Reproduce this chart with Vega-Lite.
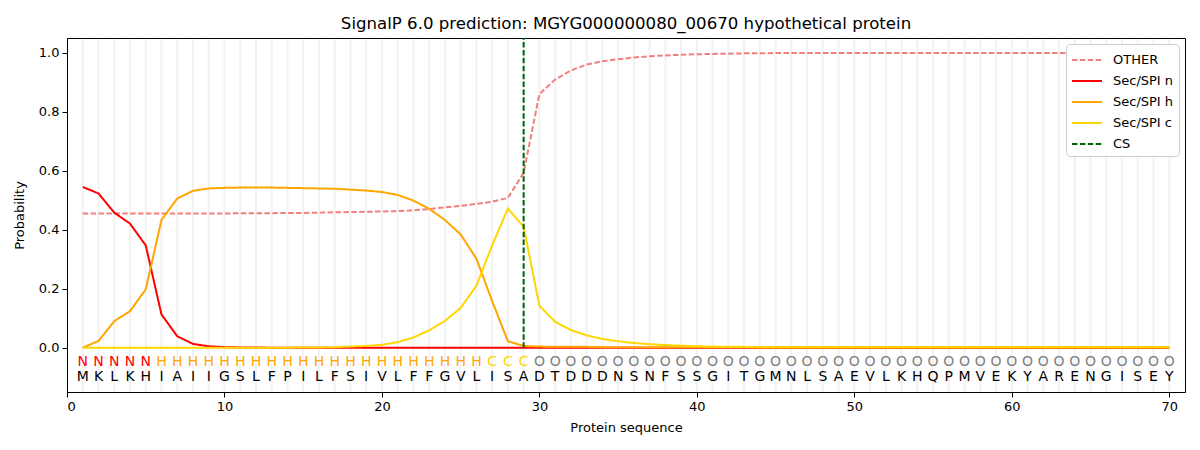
{
  "$schema": "https://vega.github.io/schema/vega-lite/v6.json",
  "width": 1118,
  "height": 354,
  "autosize": "none",
  "padding": {"left": 67, "top": 38, "right": 15, "bottom": 58},
  "title": {
    "text": "SignalP 6.0 prediction: MGYG000000080_00670 hypothetical protein",
    "font": "DejaVu Sans",
    "fontSize": 16.6,
    "fontWeight": "normal",
    "color": "black",
    "offset": 4
  },
  "config": {
    "view": {"stroke": "black", "strokeWidth": 1},
    "axis": {
      "labelFont": "DejaVu Sans",
      "labelFontSize": 13,
      "labelColor": "black",
      "titleFont": "DejaVu Sans",
      "titleFontSize": 13,
      "titleFontWeight": "normal",
      "titleColor": "black",
      "domainColor": "black",
      "tickColor": "black",
      "tickSize": 5,
      "grid": false
    },
    "legend": {
      "orient": "top-right",
      "offset": 6,
      "strokeColor": "#cccccc",
      "fillColor": "white",
      "cornerRadius": 4,
      "padding": 5,
      "labelFont": "DejaVu Sans",
      "labelFontSize": 13,
      "labelColor": "black",
      "symbolType": "M-1.5,0H1.5",
      "symbolSize": 400,
      "symbolStrokeWidth": 2,
      "symbolOffset": 5,
      "rowPadding": 3,
      "labelOffset": 15
    }
  },
  "datasets": {
    "seq": [
      {"pos": 1, "aa": "M", "lab": "N", "other": 0.455, "n": 0.545, "h": 0.0, "c": 0.0},
      {"pos": 2, "aa": "K", "lab": "N", "other": 0.455, "n": 0.523, "h": 0.023, "c": 0.0},
      {"pos": 3, "aa": "L", "lab": "N", "other": 0.455, "n": 0.458, "h": 0.09, "c": 0.0},
      {"pos": 4, "aa": "K", "lab": "N", "other": 0.455, "n": 0.421, "h": 0.124, "c": 0.0},
      {"pos": 5, "aa": "H", "lab": "N", "other": 0.455, "n": 0.347, "h": 0.198, "c": 0.0},
      {"pos": 6, "aa": "I", "lab": "H", "other": 0.455, "n": 0.113, "h": 0.433, "c": 0.0},
      {"pos": 7, "aa": "A", "lab": "H", "other": 0.455, "n": 0.039, "h": 0.506, "c": 0.0},
      {"pos": 8, "aa": "I", "lab": "H", "other": 0.455, "n": 0.013, "h": 0.532, "c": 0.0},
      {"pos": 9, "aa": "I", "lab": "H", "other": 0.455, "n": 0.005, "h": 0.54, "c": 0.0},
      {"pos": 10, "aa": "G", "lab": "H", "other": 0.455, "n": 0.002, "h": 0.542, "c": 0.0},
      {"pos": 11, "aa": "S", "lab": "H", "other": 0.456, "n": 0.001, "h": 0.543, "c": 0.0},
      {"pos": 12, "aa": "L", "lab": "H", "other": 0.456, "n": 0.001, "h": 0.543, "c": 0.0},
      {"pos": 13, "aa": "F", "lab": "H", "other": 0.456, "n": 0.0, "h": 0.543, "c": 0.0},
      {"pos": 14, "aa": "P", "lab": "H", "other": 0.457, "n": 0.0, "h": 0.542, "c": 0.0},
      {"pos": 15, "aa": "I", "lab": "H", "other": 0.457, "n": 0.0, "h": 0.541, "c": 0.001},
      {"pos": 16, "aa": "L", "lab": "H", "other": 0.458, "n": 0.0, "h": 0.54, "c": 0.001},
      {"pos": 17, "aa": "F", "lab": "H", "other": 0.459, "n": 0.0, "h": 0.539, "c": 0.002},
      {"pos": 18, "aa": "S", "lab": "H", "other": 0.46, "n": 0.0, "h": 0.536, "c": 0.004},
      {"pos": 19, "aa": "I", "lab": "H", "other": 0.461, "n": 0.0, "h": 0.533, "c": 0.006},
      {"pos": 20, "aa": "V", "lab": "H", "other": 0.462, "n": 0.0, "h": 0.528, "c": 0.01},
      {"pos": 21, "aa": "L", "lab": "H", "other": 0.463, "n": 0.0, "h": 0.518, "c": 0.019},
      {"pos": 22, "aa": "F", "lab": "H", "other": 0.466, "n": 0.0, "h": 0.499, "c": 0.035},
      {"pos": 23, "aa": "F", "lab": "H", "other": 0.47, "n": 0.0, "h": 0.471, "c": 0.059},
      {"pos": 24, "aa": "G", "lab": "H", "other": 0.476, "n": 0.0, "h": 0.433, "c": 0.091},
      {"pos": 25, "aa": "V", "lab": "H", "other": 0.481, "n": 0.0, "h": 0.384, "c": 0.135},
      {"pos": 26, "aa": "L", "lab": "H", "other": 0.488, "n": 0.0, "h": 0.302, "c": 0.21},
      {"pos": 27, "aa": "I", "lab": "C", "other": 0.495, "n": 0.0, "h": 0.158, "c": 0.347},
      {"pos": 28, "aa": "S", "lab": "C", "other": 0.508, "n": 0.0, "h": 0.022, "c": 0.472},
      {"pos": 29, "aa": "A", "lab": "C", "other": 0.593, "n": 0.0, "h": 0.006, "c": 0.41},
      {"pos": 30, "aa": "D", "lab": "O", "other": 0.86, "n": 0.0, "h": 0.004, "c": 0.142},
      {"pos": 31, "aa": "T", "lab": "O", "other": 0.909, "n": 0.0, "h": 0.003, "c": 0.088},
      {"pos": 32, "aa": "D", "lab": "O", "other": 0.94, "n": 0.0, "h": 0.003, "c": 0.06},
      {"pos": 33, "aa": "D", "lab": "O", "other": 0.96, "n": 0.0, "h": 0.003, "c": 0.042},
      {"pos": 34, "aa": "D", "lab": "O", "other": 0.971, "n": 0.0, "h": 0.002, "c": 0.03},
      {"pos": 35, "aa": "N", "lab": "O", "other": 0.978, "n": 0.0, "h": 0.002, "c": 0.022},
      {"pos": 36, "aa": "S", "lab": "O", "other": 0.984, "n": 0.0, "h": 0.002, "c": 0.016},
      {"pos": 37, "aa": "N", "lab": "O", "other": 0.988, "n": 0.0, "h": 0.002, "c": 0.012},
      {"pos": 38, "aa": "F", "lab": "O", "other": 0.991, "n": 0.0, "h": 0.002, "c": 0.009},
      {"pos": 39, "aa": "S", "lab": "O", "other": 0.993, "n": 0.0, "h": 0.002, "c": 0.007},
      {"pos": 40, "aa": "S", "lab": "O", "other": 0.995, "n": 0.0, "h": 0.002, "c": 0.005},
      {"pos": 41, "aa": "G", "lab": "O", "other": 0.996, "n": 0.0, "h": 0.002, "c": 0.004},
      {"pos": 42, "aa": "I", "lab": "O", "other": 0.997, "n": 0.0, "h": 0.002, "c": 0.003},
      {"pos": 43, "aa": "T", "lab": "O", "other": 0.998, "n": 0.0, "h": 0.002, "c": 0.003},
      {"pos": 44, "aa": "G", "lab": "O", "other": 0.998, "n": 0.0, "h": 0.002, "c": 0.002},
      {"pos": 45, "aa": "M", "lab": "O", "other": 0.999, "n": 0.0, "h": 0.002, "c": 0.002},
      {"pos": 46, "aa": "N", "lab": "O", "other": 0.999, "n": 0.0, "h": 0.002, "c": 0.002},
      {"pos": 47, "aa": "L", "lab": "O", "other": 0.999, "n": 0.0, "h": 0.002, "c": 0.002},
      {"pos": 48, "aa": "S", "lab": "O", "other": 0.999, "n": 0.0, "h": 0.002, "c": 0.002},
      {"pos": 49, "aa": "A", "lab": "O", "other": 0.999, "n": 0.0, "h": 0.002, "c": 0.002},
      {"pos": 50, "aa": "E", "lab": "O", "other": 0.999, "n": 0.0, "h": 0.002, "c": 0.002},
      {"pos": 51, "aa": "V", "lab": "O", "other": 0.999, "n": 0.0, "h": 0.002, "c": 0.002},
      {"pos": 52, "aa": "L", "lab": "O", "other": 0.999, "n": 0.0, "h": 0.002, "c": 0.002},
      {"pos": 53, "aa": "K", "lab": "O", "other": 0.999, "n": 0.0, "h": 0.002, "c": 0.002},
      {"pos": 54, "aa": "H", "lab": "O", "other": 0.999, "n": 0.0, "h": 0.002, "c": 0.002},
      {"pos": 55, "aa": "Q", "lab": "O", "other": 0.999, "n": 0.0, "h": 0.002, "c": 0.002},
      {"pos": 56, "aa": "P", "lab": "O", "other": 0.999, "n": 0.0, "h": 0.002, "c": 0.002},
      {"pos": 57, "aa": "M", "lab": "O", "other": 0.999, "n": 0.0, "h": 0.002, "c": 0.002},
      {"pos": 58, "aa": "V", "lab": "O", "other": 0.999, "n": 0.0, "h": 0.002, "c": 0.002},
      {"pos": 59, "aa": "E", "lab": "O", "other": 0.999, "n": 0.0, "h": 0.002, "c": 0.002},
      {"pos": 60, "aa": "K", "lab": "O", "other": 0.999, "n": 0.0, "h": 0.002, "c": 0.002},
      {"pos": 61, "aa": "Y", "lab": "O", "other": 0.999, "n": 0.0, "h": 0.002, "c": 0.002},
      {"pos": 62, "aa": "A", "lab": "O", "other": 0.999, "n": 0.0, "h": 0.002, "c": 0.002},
      {"pos": 63, "aa": "R", "lab": "O", "other": 0.999, "n": 0.0, "h": 0.002, "c": 0.002},
      {"pos": 64, "aa": "E", "lab": "O", "other": 0.999, "n": 0.0, "h": 0.002, "c": 0.002},
      {"pos": 65, "aa": "N", "lab": "O", "other": 0.999, "n": 0.0, "h": 0.002, "c": 0.002},
      {"pos": 66, "aa": "G", "lab": "O", "other": 0.999, "n": 0.0, "h": 0.002, "c": 0.002},
      {"pos": 67, "aa": "I", "lab": "O", "other": 0.999, "n": 0.0, "h": 0.002, "c": 0.002},
      {"pos": 68, "aa": "S", "lab": "O", "other": 0.999, "n": 0.0, "h": 0.002, "c": 0.002},
      {"pos": 69, "aa": "E", "lab": "O", "other": 0.999, "n": 0.0, "h": 0.002, "c": 0.002},
      {"pos": 70, "aa": "Y", "lab": "O", "other": 0.999, "n": 0.0, "h": 0.002, "c": 0.002}
    ]
  },
  "data": {"name": "seq"},
  "layer": [
    {
      "mark": {"type": "rule", "color": "#f2f2f2", "strokeWidth": 2},
      "encoding": {
        "x": {
          "field": "pos",
          "type": "quantitative",
          "scale": {"domain": [0, 71], "nice": false, "zero": false},
          "axis": {"values": [0, 10, 20, 30, 40, 50, 60, 70], "title": "Protein sequence", "labelPadding": 3, "titlePadding": 8}
        },
        "y": {"datum": -0.15, "type": "quantitative"},
        "y2": {"datum": 1.047}
      }
    },
    {
      "transform": [{"fold": ["other", "n", "h", "c"], "as": ["series", "p"]}],
      "mark": {"type": "line", "strokeWidth": 2},
      "encoding": {
        "x": {"field": "pos", "type": "quantitative"},
        "y": {
          "field": "p",
          "type": "quantitative",
          "scale": {"domain": [-0.15, 1.05], "nice": false, "zero": false},
          "axis": {"values": [0, 0.2, 0.4, 0.6, 0.8, 1.0], "format": ".1f", "title": "Probability", "labelPadding": 3, "titlePadding": 12}
        },
        "color": {
          "field": "series",
          "type": "nominal",
          "scale": {
            "domain": ["other", "n", "h", "c", "cs"],
            "range": ["#f08080", "red", "orange", "gold", "darkgreen"]
          },
          "legend": {"title": null, "labelExpr": "{'other': 'OTHER', 'n': 'Sec/SPI n', 'h': 'Sec/SPI h', 'c': 'Sec/SPI c', 'cs': 'CS'}[datum.label]"}
        },
        "strokeDash": {
          "field": "series",
          "type": "nominal",
          "scale": {
            "domain": ["other", "n", "h", "c", "cs"],
            "range": [[5.5, 2.4], [1, 0], [1, 0], [1, 0], [5.5, 2.4]]
          },
          "legend": {"title": null, "labelExpr": "{'other': 'OTHER', 'n': 'Sec/SPI n', 'h': 'Sec/SPI h', 'c': 'Sec/SPI c', 'cs': 'CS'}[datum.label]"}
        }
      }
    },
    {
      "data": {"values": [{"pos": 29, "series": "cs"}]},
      "mark": {"type": "rule", "strokeWidth": 2},
      "encoding": {
        "x": {"field": "pos", "type": "quantitative"},
        "y": {"datum": 0, "type": "quantitative"},
        "y2": {"datum": 1.05},
        "color": {"field": "series", "type": "nominal"},
        "strokeDash": {"field": "series", "type": "nominal"}
      }
    },
    {
      "mark": {"type": "text", "font": "DejaVu Sans", "fontSize": 14, "baseline": "middle", "align": "center"},
      "encoding": {
        "x": {"field": "pos", "type": "quantitative"},
        "y": {"datum": -0.047, "type": "quantitative"},
        "text": {"field": "lab"},
        "color": {
          "condition": [
            {"test": "datum.lab === 'N'", "value": "red"},
            {"test": "datum.lab === 'H'", "value": "orange"},
            {"test": "datum.lab === 'C'", "value": "gold"}
          ],
          "value": "gray"
        }
      }
    },
    {
      "mark": {"type": "text", "font": "DejaVu Sans", "fontSize": 14, "baseline": "middle", "align": "center", "color": "black"},
      "encoding": {
        "x": {"field": "pos", "type": "quantitative"},
        "y": {"datum": -0.1, "type": "quantitative"},
        "text": {"field": "aa"}
      }
    }
  ]
}
